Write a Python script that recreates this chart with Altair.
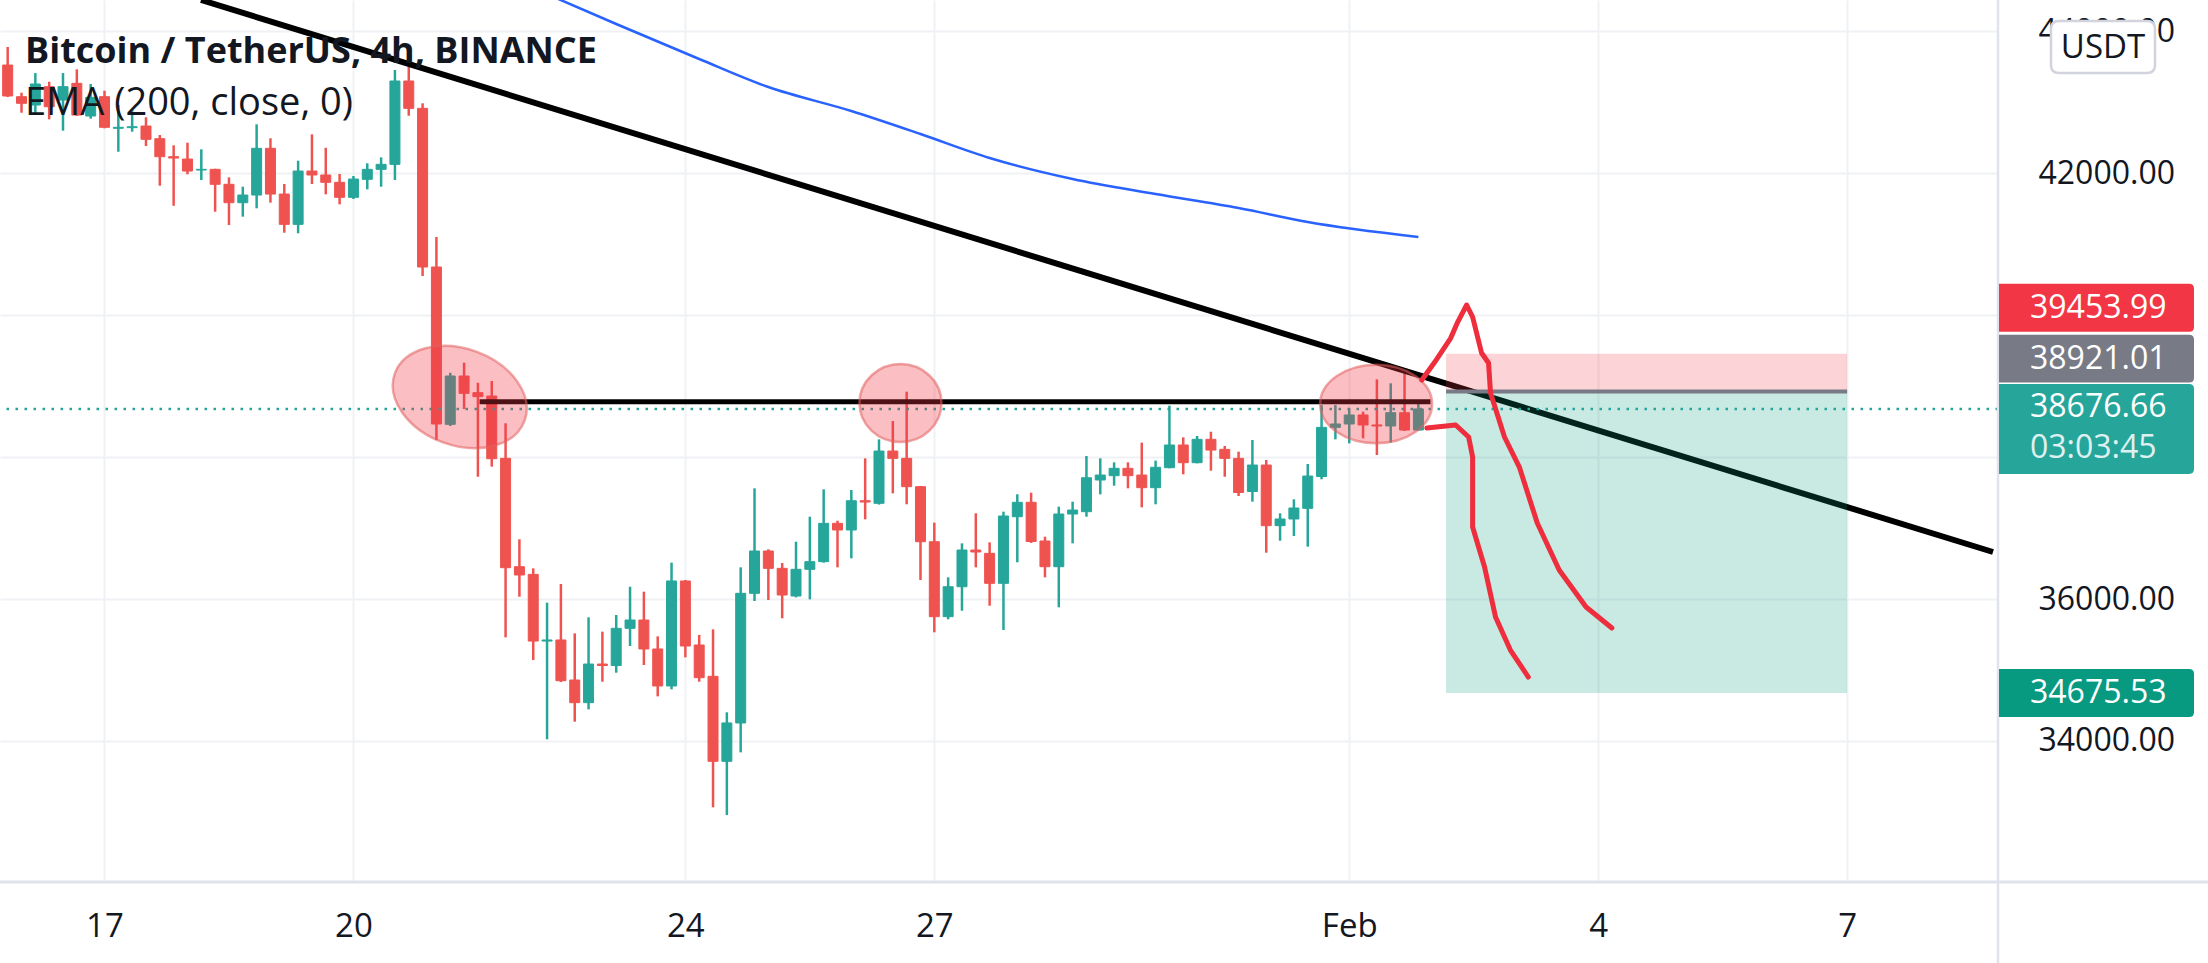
import altair as alt
import pandas as pd

# ---------------- data ----------------
# 4h bars, index 0 = Jan 17 00:00 ; x axis unit = day of January (Feb 1 = 32)
bar_index = list(range(-7, 96))
opens = [43521, 43075, 42958, 43216, 43028, 43263, 42803,
         43075, 42630, 42639, 42662, 42483, 42230,
         42197, 42042, 42052, 41841, 41582, 41690,
         42348, 41704, 41277, 42028, 41972, 41869,
         41658, 41911, 42052, 42122, 43296, 42911,
         40676, 38460, 39141, 38906, 38859, 37981,
         36455, 36347, 35408, 35423, 34859, 34540,
         35084, 35063, 35587, 35704, 35296, 34775,
         36254, 35352, 34911, 33714, 34254, 36080,
         36676, 36432, 36042, 36418, 36526, 37066,
         36972, 37384, 37348, 38084, 37981, 37582,
         36807, 35751, 36173, 36690, 36643, 36221,
         37159, 37362, 36817, 36455, 37197, 37230,
         37676, 37737, 37841, 37746, 37568, 37850,
         38169, 37920, 38249, 38108, 37981, 37514,
         37887, 37033, 37127, 37277, 37725, 38418,
         38465, 38592, 38451, 38437, 38624, 38380]
highs = [43775, 43131, 43408, 43286, 43408, 43461, 43254,
         43159, 42958, 42887, 42785, 42535, 42390,
         42427, 42334, 42060, 41939, 41807, 42686,
         42489, 41845, 42173, 42545, 42356, 41986,
         41958, 42137, 42221, 43451, 43497, 42982,
         41099, 39187, 39328, 39046, 39070, 38475,
         36841, 36432, 35948, 36211, 35516, 35742,
         35540, 35775, 36173, 36103, 35474, 36512,
         36268, 35493, 35573, 34404, 36446, 37559,
         36700, 36507, 36807, 37159, 37545, 37103,
         37535, 37981, 38249, 38507, 38920, 37590,
         37075, 36305, 36784, 37207, 36798, 37230,
         37475, 37497, 36878, 37300, 37371, 38014,
         37981, 37925, 37925, 38202, 37949, 38723,
         38277, 38296, 38356, 38155, 38075, 38239,
         37958, 37207, 37404, 37901, 38732, 38732,
         38686, 38638, 39094, 39038, 39249, 38746]
lows = [43070, 42849, 42845, 42756, 42596, 42803, 42765,
        42630, 42300, 42582, 42380, 41821, 41539,
        41982, 41901, 41455, 41268, 41385, 41503,
        41582, 41159, 41151, 41845, 41700, 41559,
        41634, 41770, 41807, 41901, 42807, 40549,
        38239, 38437, 38676, 37722, 37864, 35460,
        36032, 35140, 34024, 34831, 34272, 34446,
        34835, 34962, 35338, 35070, 34629, 34728,
        35178, 34835, 33066, 32957, 33840, 35972,
        35986, 35728, 36023, 35995, 36512, 36446,
        36573, 37122, 37330, 37488, 37334, 36268,
        35531, 35714, 35835, 36446, 35906, 35563,
        36517, 36790, 36305, 35883, 36784, 37159,
        37474, 37596, 37559, 37291, 37334, 37841,
        37756, 37911, 37807, 37722, 37451, 37371,
        36652, 36821, 36887, 36737, 37686, 38249,
        38193, 38263, 38028, 38202, 38366, 38370]
closes = [43085, 42982, 43254, 42934, 43216, 42817, 43066,
          42644, 42644, 42652, 42475, 42230, 42211,
          42028, 42052, 41841, 41582, 41690, 42348,
          41704, 41277, 42028, 41972, 41869, 41658,
          41915, 42052, 42122, 43296, 42911, 40676,
          38465, 39141, 38897, 38850, 37976, 36441,
          36338, 35408, 35423, 34849, 34540, 35084,
          35063, 35587, 35704, 35296, 34775, 36254,
          35338, 34892, 33714, 34254, 36080, 36676,
          36432, 36056, 36418, 36526, 37066, 36972,
          37384, 37366, 38084, 37981, 37582, 36807,
          35751, 36173, 36690, 36662, 36221, 37169,
          37362, 36810, 36455, 37197, 37253, 37708,
          37746, 37841, 37737, 37568, 37855, 38169,
          37920, 38249, 38098, 37981, 37500, 37887,
          37033, 37127, 37282, 37732, 38418, 38465,
          38592, 38451, 38437, 38624, 38380, 38677]

# EMA(200)
ema_index = [32, 37, 43, 48, 54, 59, 64, 70, 76, 82, 87, 95]
ema_values = [44520, 44099, 43606, 43211, 42873, 42549, 42211, 41915, 41704, 41507, 41310, 41099]

# drawings
trend_days = [18.163, 39.758]
trend_prices = [44437, 36662]
resist_days = [21.52, 32.98]
resist_price = 38780
last_price = 38676.66
entry_price = 38921.01
stop_price = 39453.99
target_price = 34675.53
position_days = [33.167, 38.0]

ellipse_days = [21.281, 26.592, 32.324]
ellipse_prices = [38845, 38760, 38746]
ellipse_ratio = [0.70, 0.95, 0.70]
ellipse_halfwidth = [69, 41, 56]
ellipse_angle = [20, 0, 0]

brush1_days = [32.875, 33.031, 33.223, 33.307, 33.415, 33.487, 33.595, 33.679, 33.703,
               33.871, 34.050, 34.266, 34.530, 34.854, 35.165]
brush1_prices = [39084, 39338, 39676, 39901, 40141, 39972, 39465, 39324, 38901,
                 38282, 37859, 37070, 36408, 35887, 35591]
brush2_days = [32.935, 33.283, 33.439, 33.487, 33.487, 33.631, 33.763, 33.942, 34.158]
brush2_prices = [38408, 38451, 38282, 38000, 37014, 36450, 35746, 35281, 34901]

x_ticks = [17, 20, 24, 27, 32, 35, 38]
y_ticks = [34000, 36000, 38000, 40000, 42000, 44000]

label_texts = ["39453.99", "38921.01", "38676.66", "34675.53"]
label_prices = [stop_price, entry_price, last_price, target_price]
label_colors = ["#f23645", "#787b86", "#26a69a", "#089981"]
label_shift = [-46, -33, 0, 0]
countdown = "03:03:45"

TEAL = "#26a69a"
RED = "#ef5350"
FONT = "Open Sans"
W, H = 1998, 882
FS = 32

# ---------------- frames ----------------
candles = pd.DataFrame({"k": bar_index, "open": opens, "high": highs, "low": lows, "close": closes})
candles["day"] = 17 + candles["k"] / 6
candles["up"] = candles["close"] >= candles["open"]

xs = alt.Scale(domain=[15.801, 39.758], nice=False, zero=False)
ys = alt.Scale(domain=[32014, 44437], nice=False, zero=False)

x_axis = alt.Axis(values=x_ticks, title=None, grid=True, gridColor="#f0f1f4", gridWidth=2,
                  domain=False, ticks=False, labelFontSize=33, labelFont=FONT, labelColor="#131722",
                  labelPadding=28, labelFlush=False, labelOverlap=False,
                  labelExpr="datum.value == 32 ? 'Feb' : datum.value > 31 ? toString(datum.value - 31) : toString(datum.value)")
y_axis = alt.Axis(values=y_ticks, orient="right", title=None, grid=True, gridColor="#f0f1f4", gridWidth=2,
                  domain=False, ticks=False, labelFontSize=FS, labelFont=FONT, labelColor="#131722",
                  labelPadding=40, labelAlign="left", labelOverlap=False, labelFlush=False,
                  labelExpr="(datum.value == 38000 || datum.value == 40000) ? '' : format(datum.value, '.2f')")


def X(field):
    return alt.X(field, scale=xs, axis=x_axis)


def Y(field):
    return alt.Y(field, scale=ys, axis=y_axis)


color_enc = alt.condition("datum.up", alt.value(TEAL), alt.value(RED))

wicks = alt.Chart(candles).mark_rule(strokeWidth=2.5).encode(
    x=X("day:Q"), y=Y("low:Q"), y2="high:Q", color=color_enc)
bodies = alt.Chart(candles).mark_bar(size=10, strokeWidth=1).encode(
    x=X("day:Q"), y=Y("open:Q"), y2="close:Q", color=color_enc, stroke=color_enc)

ema = pd.DataFrame({"day": [17 + k / 6 for k in ema_index], "price": ema_values})
ema_line = alt.Chart(ema).mark_line(color="#2962ff", strokeWidth=2.5, clip=True,
                                    interpolate="monotone").encode(x=X("day:Q"), y=Y("price:Q"))

trend = pd.DataFrame({"day": trend_days, "price": trend_prices})
trend_line = alt.Chart(trend).mark_line(color="#000000", strokeWidth=6, clip=True).encode(
    x=X("day:Q"), y=Y("price:Q"))

resist = pd.DataFrame({"day": [resist_days[0]], "d2": [resist_days[1]], "price": [resist_price]})
resist_line = alt.Chart(resist).mark_rule(color="#000000", strokeWidth=5).encode(
    x=X("day:Q"), x2="d2:Q", y=Y("price:Q"))

pos = pd.DataFrame({"day": [position_days[0]], "d2": [position_days[1]],
                    "price": [entry_price], "stop": [stop_price], "target": [target_price]})
target_zone = alt.Chart(pos).mark_rect(color="#089981", opacity=0.22).encode(
    x=X("day:Q"), x2="d2:Q", y=Y("price:Q"), y2="target:Q")
stop_zone = alt.Chart(pos).mark_rect(color="#f23645", opacity=0.22).encode(
    x=X("day:Q"), x2="d2:Q", y=Y("price:Q"), y2="stop:Q")
entry_line = alt.Chart(pos).mark_rule(color="#787b86", strokeWidth=4).encode(
    x=X("day:Q"), x2="d2:Q", y=Y("price:Q"))

lastp = pd.DataFrame({"price": [last_price]})
last_line = alt.Chart(lastp).mark_rule(color=TEAL, strokeWidth=2.5, strokeDash=[2.5, 6.5]).encode(
    y=Y("price:Q"))

layers = [wicks, bodies, ema_line, resist_line, trend_line, target_zone, stop_zone, entry_line, last_line]

KAPPA = 0.5523


def ellipse_path(r):
    k = KAPPA
    return (f"M 1 0 C 1 {k*r:.4f} {k:.4f} {r:.4f} 0 {r:.4f} "
            f"C {-k:.4f} {r:.4f} -1 {k*r:.4f} -1 0 "
            f"C -1 {-k*r:.4f} {-k:.4f} {-r:.4f} 0 {-r:.4f} "
            f"C {k:.4f} {-r:.4f} 1 {-k*r:.4f} 1 0 Z")


for d, p, r, hw, ang in zip(ellipse_days, ellipse_prices, ellipse_ratio, ellipse_halfwidth, ellipse_angle):
    e = pd.DataFrame({"day": [d], "price": [p]})
    layers.append(alt.Chart(e).mark_point(shape=ellipse_path(r), size=4 * hw * hw, angle=ang, filled=True,
                                          fill="#f23645", fillOpacity=0.32, stroke="#e2605e",
                                          strokeOpacity=0.55, strokeWidth=2.5).encode(
        x=X("day:Q"), y=Y("price:Q")))

for dd, pp in [(brush1_days, brush1_prices), (brush2_days, brush2_prices)]:
    b = pd.DataFrame({"day": dd, "price": pp, "i": list(range(len(dd)))})
    layers.append(alt.Chart(b).mark_line(color="#ee2d3d", strokeWidth=5, strokeCap="round",
                                         strokeJoin="round").encode(
        x=X("day:Q"), y=Y("price:Q"), order="i:Q"))

# separators of the price scale and time scale
frame = pd.DataFrame({"a": [0]})
layers.append(alt.Chart(frame).mark_rule(color="#e0e3eb", strokeWidth=2.5).encode(
    x=alt.value(W), y=alt.value(0), y2=alt.value(963)))
layers.append(alt.Chart(frame).mark_rule(color="#e0e3eb", strokeWidth=3).encode(
    x=alt.value(0), x2=alt.value(2208), y=alt.value(H)))


# price labels on the price scale
def box_path(hh, r=0.05):
    return (f"M -1 {-hh:.4f} L {1 - r:.4f} {-hh:.4f} Q 1 {-hh:.4f} 1 {-hh + r:.4f} "
            f"L 1 {hh - r:.4f} Q 1 {hh:.4f} {1 - r:.4f} {hh:.4f} L -1 {hh:.4f} Z")


for t, p, c, s in zip(label_texts, label_prices, label_colors, label_shift):
    lab = pd.DataFrame({"price": [p], "t": [t]})
    tall = (t == "38676.66")
    layers.append(alt.Chart(lab).mark_point(shape=box_path(0.4615 if tall else 0.246), size=4 * 97.5 ** 2,
                                            filled=True, fill=c, opacity=1, strokeWidth=0,
                                            yOffset=(s + 20 if tall else s)).encode(
        x=alt.value(2096.5), y=Y("price:Q")))
    layers.append(alt.Chart(lab).mark_text(color="white", fontSize=FS, font=FONT, align="left",
                                           baseline="middle", yOffset=s - (2 if tall else 0)).encode(
        x=alt.value(2030), y=Y("price:Q"), text="t:N"))
    if tall:
        lab2 = pd.DataFrame({"price": [p], "t": [countdown]})
        layers.append(alt.Chart(lab2).mark_text(color="white", opacity=0.85, fontSize=FS, font=FONT,
                                                align="left", baseline="middle", yOffset=39).encode(
            x=alt.value(2030), y=Y("price:Q"), text="t:N"))

# currency button
cur = pd.DataFrame({"t": ["USDT"]})
usdt_path = ("M -0.846 -0.5 L 0.846 -0.5 Q 1 -0.5 1 -0.346 L 1 0.346 Q 1 0.5 0.846 0.5 "
             "L -0.846 0.5 Q -1 0.5 -1 0.346 L -1 -0.346 Q -1 -0.5 -0.846 -0.5 Z")
layers.append(alt.Chart(cur).mark_point(shape=usdt_path, size=4 * 52 ** 2,
                                        filled=True, fill="white", stroke="#d1d4dc", strokeWidth=2.5,
                                        opacity=1).encode(x=alt.value(2103), y=alt.value(47)))
layers.append(alt.Chart(cur).mark_text(color="#131722", fontSize=33, font=FONT, align="center",
                                       baseline="middle").encode(
    x=alt.value(2103), y=alt.value(48), text="t:N"))

# legend texts
titles = pd.DataFrame({"t": ["Bitcoin / TetherUS, 4h, BINANCE"]})
layers.append(alt.Chart(titles).mark_text(color="#131722", fontSize=36, font=FONT, fontWeight="bold",
                                          align="left", baseline="alphabetic").encode(
    x=alt.value(25), y=alt.value(63), text="t:N"))
ema_title = pd.DataFrame({"t": ["EMA (200, close, 0)"]})
layers.append(alt.Chart(ema_title).mark_text(color="#131722", fontSize=38, font=FONT,
                                             align="left", baseline="alphabetic").encode(
    x=alt.value(25), y=alt.value(115), text="t:N"))

chart = alt.layer(*layers).properties(
    width=W, height=H,
    padding={"left": 0, "top": 0, "right": 2208 - W, "bottom": 963 - H},
    autosize=alt.AutoSizeParams(type="none"),
    background="white",
).configure_view(strokeWidth=0)

chart.save("out.html", embed_options={"renderer": "svg", "actions": False})
